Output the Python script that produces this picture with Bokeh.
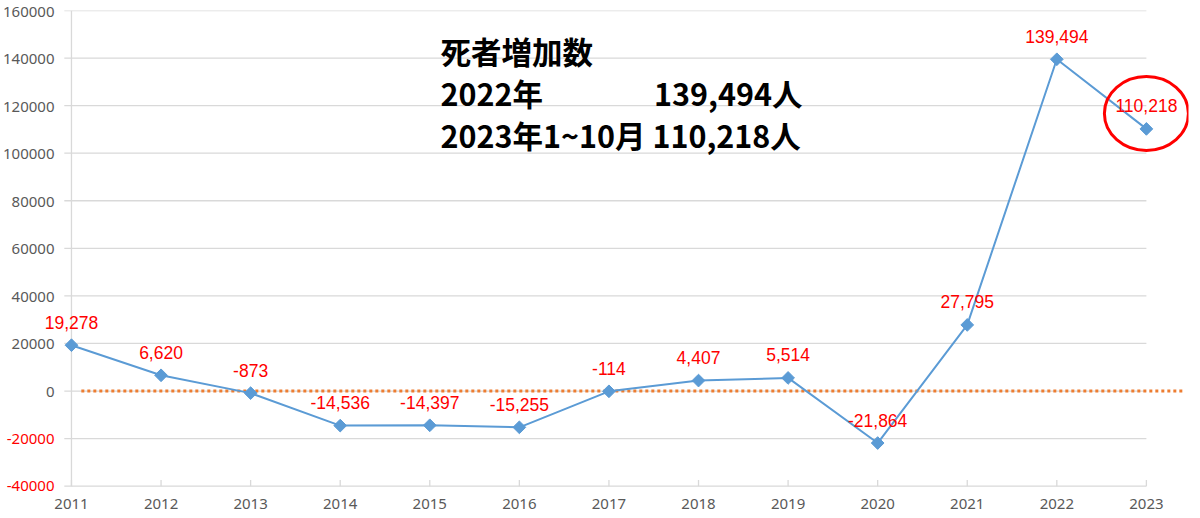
import math
from bokeh.plotting import figure
from bokeh.models import (FixedTicker, NumeralTickFormatter, Label, LabelSet,
                          ColumnDataSource, Range1d)
from bokeh.core.properties import value
from bokeh.embed import file_html
from bokeh.resources import INLINE

# ---- data ----
years = [2011, 2012, 2013, 2014, 2015, 2016, 2017, 2018, 2019, 2020, 2021, 2022, 2023]
increase = [19278, 6620, -873, -14536, -14397, -15255, -114, 4407, 5514, -21864, 27795, 139494, 110218]
labels = [f"{v:,}" for v in increase]
y_ticks = [-40000, -20000, 0, 20000, 40000, 60000, 80000, 100000, 120000, 140000, 160000]
title_lines = ["死者増加数", "2022年", "2023年1~10月 110,218人"]
title_value_2022 = "139,494人"

# ---- layout / style ----
BLUE = "#5B9BD5"
RED = "#FF0000"
GRID = "#D9D9D9"
TICK_TEXT = "#595959"
Y_LABEL_RIGHT = 52   # px from frame left where y tick labels end

p = figure(width=1190, height=511, output_backend="svg", toolbar_location=None,
           x_range=Range1d(2010.23, 2023.47), y_range=Range1d(-43500, y_ticks[-1]),
           min_border_top=10, min_border_right=2, min_border_left=0, min_border_bottom=0)
p.background_fill_color = "white"
p.border_fill_color = "white"
p.outline_line_color = None
p.xgrid.visible = False
p.ygrid.visible = False

# horizontal grid lines (from the y ticks); the lowest one doubles as the x axis line
gx0 = [years[0] - 0.08] * len(y_ticks)
gx1 = [years[-1]] * len(y_ticks)
p.segment(x0=gx0, y0=y_ticks, x1=gx1, y1=y_ticks, line_color=GRID, line_width=1.3)
# y axis line at first year
p.segment(x0=[years[0]], y0=[y_ticks[0]], x1=[years[0]], y1=[y_ticks[-1]],
          line_color=GRID, line_width=1.3)
# x tick marks (pointing up from the axis line)
p.segment(x0=years, y0=[y_ticks[0]] * len(years), x1=years, y1=[y_ticks[0] + 2600] * len(years),
          line_color=GRID, line_width=1.3)

# x axis
xa = p.xaxis[0]
xa.ticker = FixedTicker(ticks=years)
xa.axis_line_color = None
xa.major_tick_line_color = None
xa.major_tick_in = 0
xa.major_tick_out = 0
xa.minor_tick_line_color = None
xa.major_label_standoff = 4
xa.major_label_text_font = "Noto Sans"
xa.major_label_text_font_size = "15px"
xa.major_label_text_color = TICK_TEXT

# y axis (labels drawn into the white margin left of the first year)
ya = p.yaxis[0]
ya.ticker = FixedTicker(ticks=y_ticks)
ya.formatter = NumeralTickFormatter(format="0")
ya.axis_line_color = None
ya.major_tick_line_color = None
ya.minor_tick_line_color = None
ya.major_tick_in = 0
ya.major_tick_out = 0
ya.major_label_standoff = -Y_LABEL_RIGHT
ya.major_label_text_font = "Noto Sans"
ya.major_label_text_font_size = "15px"
ya.major_label_text_color = TICK_TEXT
neg_ticks = [t for t in y_ticks if t < 0]
ya.major_label_overrides = {t: " " for t in neg_ticks}
p.text(x=[p.x_range.start] * len(neg_ticks), y=neg_ticks, text=[str(t) for t in neg_ticks],
       x_offset=Y_LABEL_RIGHT, text_align="right", text_baseline="middle",
       text_font=value("Noto Sans"), text_font_size="15px", text_color=RED)

# zero reference line (orange dotted)
p.segment(x0=[years[0] + 0.11], y0=[0], x1=[years[-1] + 0.42], y1=[0],
          line_color="#ED7D31", line_width=3, line_dash="3 3")

# data line + diamond markers
src = ColumnDataSource(dict(x=years, y=increase, label=labels))
p.line("x", "y", source=src, line_color=BLUE, line_width=2)
p.scatter("x", "y", source=src, marker="square", size=9, angle=math.pi / 4,
          fill_color=BLUE, line_color=BLUE)

# data labels
p.add_layout(LabelSet(x="x", y="y", text="label", source=src, y_offset=23,
                      text_align="center", text_baseline="middle",
                      text_font=value("Liberation Sans"), text_font_size=value("17.5px"),
                      text_color=value(RED)))

# red ellipse around the last point
p.ellipse(x=[years[-1]], y=[increase[-1] + 6500], width=84, height=74,
          width_units="screen", height_units="screen",
          fill_color=None, line_color=RED, line_width=3)

# title block
tfont = "Noto Sans CJK JP"
ty = [142980, 125520, 107680]
for line, yy in zip(title_lines, ty):
    p.add_layout(Label(x=2015.12, y=yy, text=line, text_align="left", text_baseline="middle",
                       text_font=tfont, text_font_size="30.5px", text_font_style="bold",
                       text_color="black"))
p.add_layout(Label(x=2019.16, y=ty[1], text=title_value_2022, text_align="right",
                   text_baseline="middle", text_font=tfont, text_font_size="30.5px",
                   text_font_style="bold", text_color="black"))

open("out.html", "w").write(file_html(p, INLINE))
